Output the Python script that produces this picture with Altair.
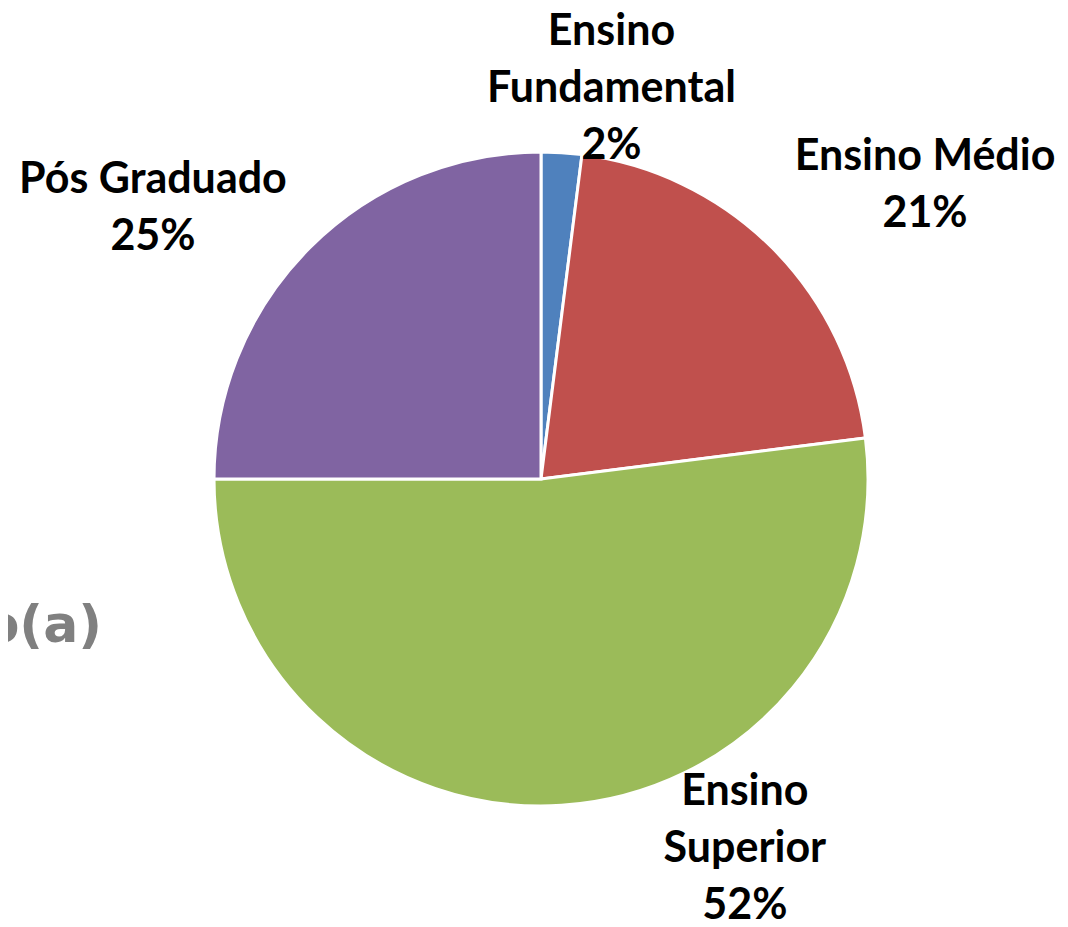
import math
import altair as alt
import pandas as pd

categories = ["Ensino Fundamental", "Ensino Médio", "Ensino Superior", "Pós Graduado"]
label_lines = ["Ensino\nFundamental", "Ensino Médio", "Ensino\nSuperior", "Pós Graduado"]
values = [2, 21, 52, 25]
colors = ["#4F81BD", "#C0504D", "#9BBB59", "#8064A2"]

# label layout: (radius, dx, dy)
label_layout = {
    "Ensino Fundamental": (390, 46, -58),
    "Ensino Médio": (430, 80, -18),
    "Ensino Superior": (380, 180, -66),
    "Pós Graduado": (430, -84, 5),
}

CX, CY = 533, 471
R = 327
FONT = "Lato"

df = pd.DataFrame({"cat": categories, "lbl": label_lines, "value": values,
                   "order": list(range(len(categories)))})
base = alt.Chart(df)

pie = base.mark_arc(outerRadius=R, stroke="white", strokeWidth=3).encode(
    theta=alt.Theta("value:Q", stack=True),
    order=alt.Order("order:Q"),
    color=alt.Color("cat:N", scale=alt.Scale(domain=categories, range=colors), legend=None),
    x=alt.value(CX),
    y=alt.value(CY),
)

layers = [pie]
for c in categories:
    r, dx, dy = label_layout[c]
    t = (
        base.transform_joinaggregate(total="sum(value)")
        .transform_window(cum="sum(value)", sort=[alt.SortField("order")], frame=[None, 0])
        .transform_calculate(
            mid="(datum.cum - datum.value/2)/datum.total",
            txt="datum.lbl + '\\n' + datum.value + '%'",
        )
        .transform_filter(alt.datum.cat == c)
        .mark_text(radius=r, dx=dx, dy=dy, font=FONT, fontSize=43, fontWeight="bold",
                   color="black", align="center", baseline="middle",
                   lineBreak="\n", lineHeight=57)
        .encode(
            theta=alt.Theta("mid:Q", scale=alt.Scale(domain=[0, 1], range=[0, 2 * math.pi]), stack=None),
            text="txt:N",
            x=alt.value(CX),
            y=alt.value(CY),
        )
    )
    layers.append(t)

side = alt.Chart(pd.DataFrame({"t": ["o(a)"]})).mark_text(
    font="DejaVu Sans", fontSize=52, fontWeight="bold", color="#808080",
    align="right", baseline="alphabetic"
).encode(text="t:N", x=alt.value(94), y=alt.value(634))
layers.append(side)

chart = (
    alt.layer(*layers)
    .resolve_scale(theta="independent")
    .properties(width=1052, height=911, autosize="none", padding=0)
    .configure_view(stroke=None)
)

chart.save("out.html", embed_options={"renderer": "svg", "actions": False})
